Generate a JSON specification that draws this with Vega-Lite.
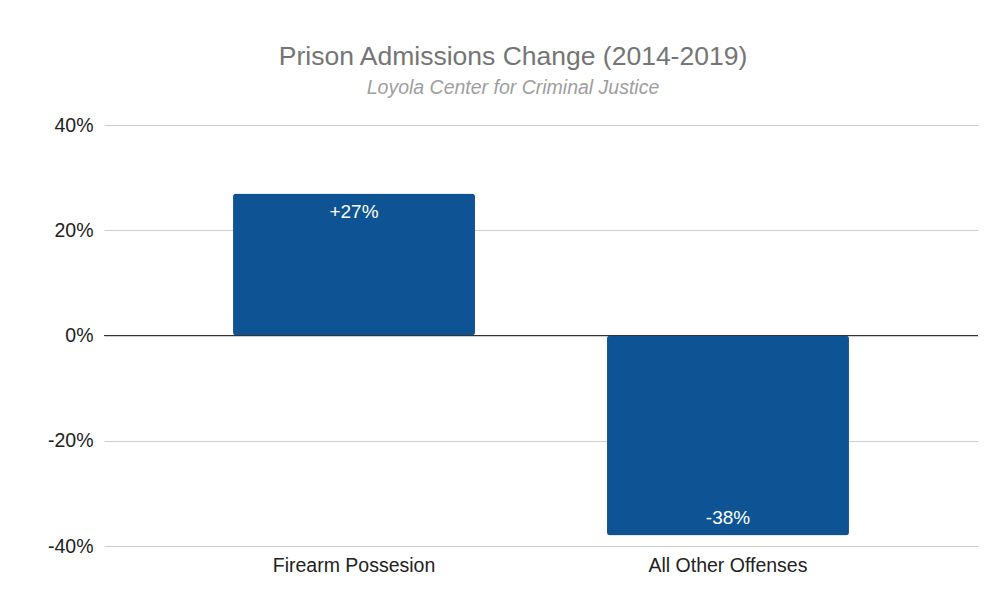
{
  "$schema": "https://vega.github.io/schema/vega-lite/v6.json",
  "autosize": {"type": "none"},
  "width": 874,
  "height": 421,
  "padding": {"left": 104, "top": 125, "right": 22, "bottom": 57},
  "background": "white",
  "title": {
    "text": "Prison Admissions Change (2014-2019)",
    "subtitle": "Loyola Center for Criminal Justice",
    "anchor": "middle",
    "frame": "group",
    "dx": -28,
    "offset": 18,
    "font": "Liberation Sans",
    "fontSize": 26.5,
    "fontWeight": "normal",
    "color": "#757575",
    "subtitleFont": "Liberation Sans",
    "subtitleFontSize": 19.5,
    "subtitleFontStyle": "italic",
    "subtitleColor": "#9e9e9e",
    "subtitlePadding": 8
  },
  "config": {
    "view": {"stroke": null},
    "axis": {"labelFont": "Liberation Sans", "labelColor": "#222222", "labelFontSize": 19.5}
  },
  "data": {
    "values": [
      {"category": "Firearm Possesion", "change": 27, "label": "+27%"},
      {"category": "All Other Offenses", "change": -38, "label": "-38%"}
    ]
  },
  "encoding": {
    "x": {
      "field": "category",
      "type": "nominal",
      "sort": null,
      "scale": {"paddingInner": 0.353, "paddingOuter": 0.345},
      "axis": {"title": null, "labelAngle": 0, "domain": false, "ticks": false, "labelPadding": 10, "grid": false}
    }
  },
  "layer": [
    {
      "mark": {"type": "bar", "color": "#0e5394", "cornerRadius": 3},
      "encoding": {
        "y": {
          "field": "change",
          "type": "quantitative",
          "scale": {"domain": [-40, 40], "nice": false},
          "axis": {
            "title": null,
            "values": [-40, -20, 0, 20, 40],
            "labelExpr": "datum.value + '%'",
            "domain": false,
            "ticks": false,
            "labelPadding": 11,
            "gridColor": "#cccccc",
            "gridWidth": 1
          }
        }
      }
    },
    {
      "mark": {"type": "rule", "color": "#333333", "strokeWidth": 1.2},
      "encoding": {"y": {"datum": 0, "type": "quantitative"}, "x": {}}
    },
    {
      "transform": [{"filter": "datum.change >= 0"}],
      "mark": {"type": "text", "color": "white", "font": "Liberation Sans", "fontSize": 19, "baseline": "middle", "dy": 19},
      "encoding": {"y": {"field": "change", "type": "quantitative"}, "text": {"field": "label"}}
    },
    {
      "transform": [{"filter": "datum.change < 0"}],
      "mark": {"type": "text", "color": "white", "font": "Liberation Sans", "fontSize": 19, "baseline": "middle", "dy": -17},
      "encoding": {"y": {"field": "change", "type": "quantitative"}, "text": {"field": "label"}}
    }
  ]
}
